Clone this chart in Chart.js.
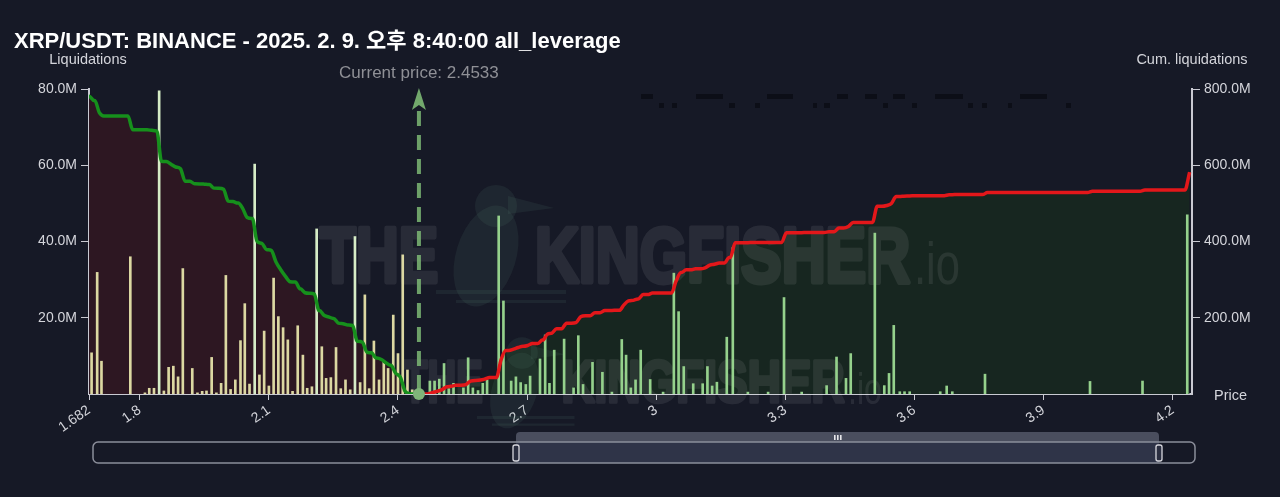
<!DOCTYPE html>
<html>
<head>
<meta charset="utf-8">
<script src="https://cdn.jsdelivr.net/npm/chart.js@4.4.1/dist/chart.umd.min.js"></script>
<style>
  html, body { margin: 0; padding: 0; background: #161926; }
  #wrap { width: 1280px; height: 497px; position: relative; }
</style>
</head>
<body>
<div id="wrap"><canvas id="chart"></canvas></div>
<script>
// chart data (liquidation values in millions)
const chartTitle = 'XRP/USDT: BINANCE - 2025. 2. 9. 오후 8:40:00 all_leverage';
const currentPrice = 2.4533;
const priceMin = 1.682;
const priceMax = 4.245;
const priceTicks = [1.682, 1.8, 2.1, 2.4, 2.7, 3, 3.3, 3.6, 3.9, 4.2];
const liqTicks = [20, 40, 60, 80];
const cumTicks = [200, 400, 600, 800];

// liquidation levels below the current price
const belowPrices = [1.688, 1.701, 1.711, 1.778, 1.812, 1.822, 1.833, 1.845, 1.856, 1.867, 1.878, 1.889,
    1.900, 1.922, 1.934, 1.945, 1.955, 1.967, 1.978, 1.989, 2.000, 2.011, 2.022, 2.034,
    2.044, 2.055, 2.067, 2.078, 2.089, 2.100, 2.111, 2.122, 2.133, 2.144, 2.155, 2.167,
    2.179, 2.189, 2.200, 2.211, 2.223, 2.233, 2.244, 2.256, 2.267, 2.278, 2.289, 2.300,
    2.312, 2.323, 2.333, 2.344, 2.356, 2.367, 2.377, 2.389, 2.400, 2.411, 2.422, 2.433];
const belowLiq = [10.8, 31.9, 8.6, 36.0, 0.3, 1.5, 1.5, 79.5, 0.8, 7.0, 7.3, 4.5,
    32.9, 6.7, 0.3, 0.7, 0.8, 9.6, 0.3, 2.8, 31.1, 1.2, 3.7, 14.0,
    23.7, 2.6, 60.3, 5.0, 16.5, 2.1, 30.4, 20.3, 17.4, 14.2, 0.7, 17.9,
    10.2, 1.5, 1.9, 43.3, 12.4, 4.1, 4.3, 12.2, 1.4, 3.7, 1.1, 41.3,
    3.0, 26.0, 1.4, 13.9, 3.7, 8.5, 6.7, 20.7, 10.6, 36.5, 6.3, 1.1];

// liquidation levels above the current price
const abovePrices = [2.474, 2.485, 2.496, 2.507, 2.518, 2.529, 2.552, 2.563, 2.574, 2.586, 2.597, 2.607,
    2.634, 2.645, 2.663, 2.674, 2.685, 2.697, 2.707, 2.730, 2.742, 2.752, 2.763, 2.786,
    2.808, 2.819, 2.830, 2.852, 2.875, 2.897, 2.920, 2.930, 2.941, 2.952, 2.964, 2.986,
    3.016, 3.041, 3.052, 3.064, 3.086, 3.108, 3.119, 3.130, 3.141, 3.164, 3.178, 3.213,
    3.260, 3.297, 3.338, 3.396, 3.419, 3.441, 3.452, 3.508, 3.530, 3.541, 3.552, 3.566,
    3.577, 3.589, 3.660, 3.675, 3.688, 3.764, 4.008, 4.130, 4.234];
const aboveLiq = [3.4, 3.4, 3.9, 8.0, 1.4, 2.8, 1.6, 9.5, 1.6, 0.9, 2.8, 3.7,
    46.7, 24.4, 3.4, 4.5, 3.0, 2.5, 4.7, 9.2, 15.5, 2.8, 11.5, 14.4,
    1.6, 15.3, 2.5, 8.3, 5.7, 0.5, 14.3, 10.2, 1.6, 3.7, 11.5, 3.8,
    0.5, 31.7, 21.6, 7.2, 2.7, 2.7, 7.2, 2.1, 3.1, 14.9, 38.4, 0.5,
    0.5, 25.3, 0.5, 2.2, 9.7, 4.1, 10.6, 42.2, 2.2, 5.4, 18.0, 0.6,
    0.6, 0.6, 0.6, 2.1, 0.6, 5.2, 3.3, 3.4, 47.0];

const FONT = "'Liberation Sans', 'Noto Sans CJK KR', Arial, sans-serif";
const axisColor = '#c9cad2';
const textColor = '#d4d5db';
const halfBin = 0.0055;

// edges of each price bin, so the cumulative line steps across one bin
function binEdges(prices) {
    return prices.map((p, i) => {
        let lo = p - halfBin, hi = p + halfBin;
        if (i > 0) lo = Math.max(lo, (prices[i - 1] + p) / 2);
        if (i < prices.length - 1) hi = Math.min(hi, (prices[i + 1] + p) / 2);
        return [lo, hi];
    });
}

function pushPoint(pts, x, y) {
    const last = pts[pts.length - 1];
    if (last && Math.abs(last.x - x) < 1e-6) { last.y = y; return; }
    pts.push({ x, y });
}

// cumulative liquidations, summed away from the current price
function cumulativeBelow() {
    let total = belowLiq.reduce((a, b) => a + b, 0);
    const pts = [{ x: priceMin, y: total }];
    binEdges(belowPrices).forEach((e, i) => {
        pushPoint(pts, e[0], total);
        total = Math.max(total - belowLiq[i], 0);
        pushPoint(pts, e[1], total);
    });
    return pts;
}

function cumulativeAbove() {
    let total = 0;
    const pts = [{ x: currentPrice, y: 0 }];
    binEdges(abovePrices).forEach((e, i) => {
        pushPoint(pts, e[0], total);
        total += aboveLiq[i];
        pushPoint(pts, e[1], total);
    });
    return pts;
}

// heavy watermark text, drawn once on its own canvas
function fitText(c, text, x0, x1, base, lw) {
    const w = c.measureText(text).width + lw;
    const sx = (x1 - x0) / w;
    c.save();
    c.translate(x0 + lw / 2 * sx, base);
    c.scale(sx, 1);
    if (lw > 0) c.strokeText(text, 0, 0);
    c.fillText(text, 0, 0);
    c.restore();
}

function drawMark(c, top, capH, theX, kingX, ioX) {
    const lw = capH * 0.08;
    const size = (capH - lw) / 0.72;
    const base = top + capH - lw / 2;
    c.fillStyle = '#ffffff';
    c.strokeStyle = '#ffffff';
    c.lineWidth = lw;
    c.lineJoin = 'round';
    c.textBaseline = 'alphabetic';
    c.textAlign = 'left';
    c.font = `bold ${size}px ${FONT}`;
    fitText(c, 'THE', theX[0], theX[1], base, lw);
    fitText(c, 'KINGFISHER', kingX[0], kingX[1], base, lw);
    c.font = `${size * 0.75}px ${FONT}`;
    fitText(c, '.io', ioX[0], ioX[1], top + capH, 0);
}

function drawBird(c, cx, top, k) {
    c.save();
    c.translate(cx, top);
    c.scale(k, k);
    c.beginPath();
    c.arc(0, 20, 21, 0, Math.PI * 2);
    c.fill();
    c.beginPath();
    c.moveTo(12, 10);
    c.lineTo(58, 22);
    c.lineTo(12, 28);
    c.closePath();
    c.fill();
    c.beginPath();
    c.ellipse(-10, 70, 30, 52, 0.3, 0, Math.PI * 2);
    c.fill();
    c.fillRect(-60, 104, 130, 4);
    c.fillRect(-40, 114, 110, 3);
    c.restore();
}

let markCanvas = null;
function buildMark() {
    const c = document.createElement('canvas');
    c.width = 1280;
    c.height = 497;
    const g = c.getContext('2d');
    drawMark(g, 223, 61, [318, 440], [533, 912], [914, 960]);
    drawMark(g, 358, 46, [402, 484], [560, 846], [848, 882]);
    return c;
}

const watermark = {
    id: 'watermark',
    beforeDatasetsDraw(chart) {
        const ctx = chart.ctx;
        if (!markCanvas) markCanvas = buildMark();
        ctx.save();
        ctx.fillStyle = 'rgba(110,160,135,0.10)';
        drawBird(ctx, 496, 186, 1);
        drawBird(ctx, 522, 338, 0.75);
        ctx.globalAlpha = 0.08;
        ctx.drawImage(markCanvas, 0, 0, 1280, 497);
        ctx.restore();
    }
};

const priceMarker = {
    id: 'priceMarker',
    afterDatasetsDraw(chart) {
        const ctx = chart.ctx;
        const area = chart.chartArea;
        const x = chart.scales.x.getPixelForValue(currentPrice) - 2;
        ctx.save();
        ctx.strokeStyle = 'rgba(124,184,116,0.85)';
        ctx.lineWidth = 4;
        ctx.setLineDash([15, 9]);
        ctx.beginPath();
        ctx.moveTo(x, area.bottom - 4);
        ctx.lineTo(x, area.top + 16);
        ctx.stroke();
        ctx.setLineDash([]);
        ctx.fillStyle = 'rgba(124,184,116,0.9)';
        ctx.beginPath();
        ctx.moveTo(x, area.top - 1);
        ctx.lineTo(x + 7, area.top + 21);
        ctx.lineTo(x, area.top + 16);
        ctx.lineTo(x - 7, area.top + 21);
        ctx.closePath();
        ctx.fill();
        ctx.fillStyle = '#80b57a';
        ctx.beginPath();
        ctx.arc(x, area.bottom, 6, 0, Math.PI * 2);
        ctx.fill();
        ctx.fillStyle = '#8f9096';
        ctx.font = `17px ${FONT}`;
        ctx.textAlign = 'center';
        ctx.textBaseline = 'alphabetic';
        ctx.fillText('Current price: ' + currentPrice, x, 78);
        ctx.restore();
    }
};

const decorations = {
    id: 'decorations',
    afterDraw(chart) {
        const ctx = chart.ctx;
        ctx.save();
        // title and axis captions
        ctx.fillStyle = '#ffffff';
        ctx.font = `bold 22px ${FONT}`;
        ctx.textAlign = 'left';
        ctx.textBaseline = 'alphabetic';
        ctx.fillText(chartTitle, 14, 48);
        ctx.fillStyle = textColor;
        ctx.font = `14.5px ${FONT}`;
        ctx.textAlign = 'center';
        ctx.fillText('Liquidations', 88, 64);
        ctx.fillText('Cum. liquidations', 1192, 64);
        ctx.textAlign = 'left';
        ctx.fillText('Price', 1214, 400);

        // hidden labels strip near the top
        ctx.fillStyle = '#0c0e17';
        [[641, 653], [696, 723], [767, 793], [837, 848], [865, 877], [893, 905], [935, 963], [1020, 1047]]
            .forEach(s => ctx.fillRect(s[0], 94, s[1] - s[0], 5));
        [[659, 664], [672, 677], [729, 735], [755, 760], [813, 817], [824, 830], [883, 888], [912, 917],
            [968, 973], [982, 987], [1008, 1012], [1066, 1071]]
            .forEach(s => ctx.fillRect(s[0], 103, s[1] - s[0], 5));

        // range slider
        ctx.fillStyle = '#4a4e5e';
        ctx.beginPath();
        ctx.roundRect(516, 432, 643, 12, [4, 4, 0, 0]);
        ctx.fill();
        ctx.fillStyle = '#2f3448';
        ctx.fillRect(516, 442, 643, 21);
        ctx.strokeStyle = '#8b8e9a';
        ctx.lineWidth = 1.5;
        ctx.beginPath();
        ctx.roundRect(93, 442, 1102, 21, 5);
        ctx.stroke();
        ctx.fillStyle = '#e6e6ea';
        [834, 837, 840].forEach(gx => ctx.fillRect(gx, 435, 1.6, 5));
        [516, 1159].forEach(hx => {
            ctx.fillStyle = '#2a2e40';
            ctx.strokeStyle = '#d8d8de';
            ctx.lineWidth = 1.3;
            ctx.beginPath();
            ctx.roundRect(hx - 3, 445, 6, 16, 2);
            ctx.fill();
            ctx.stroke();
        });
        ctx.restore();
    }
};

const tickFont = { family: FONT, size: 14 };

const ctx = document.getElementById('chart').getContext('2d');
new Chart(ctx, {
    type: 'bar',
    data: {
        datasets: [
            {
                type: 'line',
                label: 'Cum. below',
                data: cumulativeBelow(),
                yAxisID: 'y1',
                borderColor: '#16901c',
                borderWidth: 3.5,
                backgroundColor: '#2d1722',
                fill: 'origin',
                pointRadius: 0,
                cubicInterpolationMode: 'monotone',
                order: 0
            },
            {
                type: 'line',
                label: 'Cum. above',
                data: cumulativeAbove(),
                yAxisID: 'y1',
                borderColor: '#e3171a',
                borderWidth: 3.5,
                backgroundColor: '#172620',
                fill: 'origin',
                pointRadius: 0,
                cubicInterpolationMode: 'monotone',
                order: 0
            },
            {
                label: 'Liquidations below',
                data: belowPrices.map((p, i) => ({ x: p, y: belowLiq[i] })),
                yAxisID: 'y',
                backgroundColor: belowLiq.map(v => v >= 40 ? '#d6ecc6' : '#dcd8a2'),
                barThickness: 2,
                grouped: false,
                order: 1
            },
            {
                label: 'Liquidations above',
                data: abovePrices.map((p, i) => ({ x: p, y: aboveLiq[i] })),
                yAxisID: 'y',
                backgroundColor: '#95d18c',
                barThickness: 2,
                grouped: false,
                order: 1
            }
        ]
    },
    options: {
        responsive: true,
        maintainAspectRatio: false,
        animation: false,
        layout: { padding: { top: 89, left: 0, right: 0, bottom: 0 } },
        plugins: {
            legend: { display: false },
            tooltip: { enabled: false },
            filler: { drawTime: 'beforeDatasetsDraw' }
        },
        scales: {
            x: {
                type: 'linear',
                min: priceMin,
                max: priceMax,
                offset: false,
                afterBuildTicks: s => { s.ticks = priceTicks.map(v => ({ value: v })); },
                afterFit: s => { s.height = 103; },
                ticks: {
                    color: textColor,
                    font: tickFont,
                    minRotation: 35,
                    maxRotation: 35,
                    autoSkip: false,
                    padding: 2,
                    callback: v => String(Number(v.toFixed(3)))
                },
                grid: { drawOnChartArea: false, drawTicks: true, tickLength: 6, color: axisColor, offset: false },
                border: { display: true, color: axisColor, width: 2 }
            },
            y: {
                position: 'left',
                min: 0,
                max: 80,
                afterBuildTicks: s => { s.ticks = liqTicks.map(v => ({ value: v })); },
                afterFit: s => { s.width = 89; },
                ticks: {
                    color: textColor,
                    font: tickFont,
                    padding: 4,
                    callback: v => v.toFixed(1) + 'M'
                },
                grid: { drawOnChartArea: false, drawTicks: true, tickLength: 8, color: axisColor },
                border: { display: true, color: axisColor, width: 2 }
            },
            y1: {
                position: 'right',
                min: 0,
                max: 800,
                afterBuildTicks: s => { s.ticks = cumTicks.map(v => ({ value: v })); },
                afterFit: s => { s.width = 88; },
                ticks: {
                    color: textColor,
                    font: tickFont,
                    padding: 4,
                    callback: v => v.toFixed(1) + 'M'
                },
                grid: { drawOnChartArea: false, drawTicks: true, tickLength: 8, color: axisColor },
                border: { display: true, color: axisColor, width: 2 }
            }
        }
    },
    plugins: [watermark, priceMarker, decorations]
});
</script>
</body>
</html>
